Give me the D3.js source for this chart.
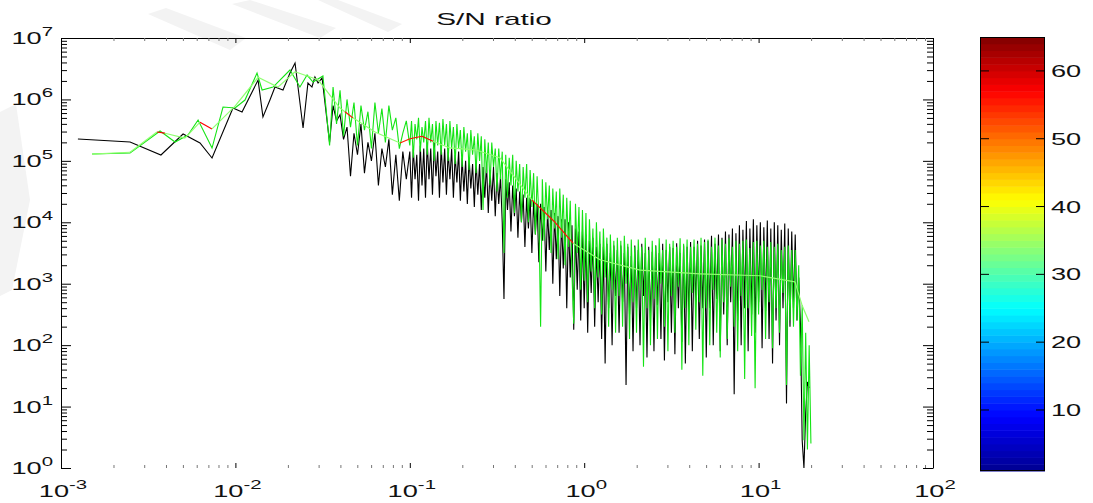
<!DOCTYPE html>
<html>
<head>
<meta charset="utf-8">
<script src="https://cdn.jsdelivr.net/npm/d3@7"></script>
<style>
  body { margin: 0; background: #fff; }
  text { font-family: "Liberation Sans", Arial, sans-serif; fill: #111; }
</style>
</head>
<body>
<svg id="chart" width="1093" height="503"></svg>
<script>
// all values are log10 (frequency, S/N)

// low frequency part, separate points for each trace
var blackLowF = [-2.903, -2.604, -2.427, -2.300, -2.203, -2.134, -2.014, -1.962, -1.870, -1.842,
                 -1.802, -1.773, -1.727, -1.687, -1.658, -1.612, -1.584, -1.561, -1.544, -1.526, -1.503];
var blackLowV = [5.356, 5.307, 5.095, 5.437, 5.291, 5.047, 5.860, 5.795, 6.316, 5.714,
                 5.990, 6.202, 6.153, 6.430, 6.593, 5.535, 6.267, 6.202, 6.365, 6.267, 6.349];

var greenLowF = [-2.822, -2.604, -2.432, -2.346, -2.272, -2.214, -2.134, -2.071, -2.002, -1.945,
                 -1.876, -1.847, -1.784, -1.687, -1.630, -1.589, -1.555, -1.498];
var greenLowV = [5.111, 5.128, 5.486, 5.307, 5.421, 5.665, 5.209, 5.877, 5.860, 5.990,
                 6.430, 6.153, 6.202, 6.479, 6.202, 6.397, 6.284, 6.381];

// dense part, both traces on the same frequencies
var denseF = [-1.46, -1.44, -1.42, -1.4, -1.38, -1.36, -1.34, -1.32, -1.3, -1.28,
              -1.26, -1.24, -1.22, -1.2, -1.18, -1.16, -1.14, -1.12, -1.1, -1.08,
              -1.06, -1.04, -1.02,
              -1, -0.99, -0.98, -0.97, -0.96, -0.95, -0.94, -0.93, -0.92, -0.91,
              -0.9, -0.89, -0.88, -0.87, -0.86, -0.85, -0.84, -0.83, -0.82, -0.81,
              -0.8, -0.79, -0.78, -0.77, -0.76, -0.75, -0.74, -0.73, -0.72, -0.71,
              -0.7, -0.69, -0.68, -0.67, -0.66, -0.65, -0.64, -0.63, -0.62, -0.61,
              -0.6, -0.59, -0.58, -0.57, -0.56, -0.55, -0.54, -0.53, -0.52, -0.51,
              -0.5, -0.49, -0.48, -0.47, -0.46, -0.45, -0.44, -0.43, -0.42, -0.41,
              -0.4, -0.39, -0.38, -0.37, -0.36, -0.35, -0.34, -0.33, -0.32, -0.31,
              -0.3, -0.29, -0.28, -0.27, -0.26, -0.25, -0.24, -0.23, -0.22, -0.21,
              -0.2, -0.19, -0.18, -0.17, -0.16, -0.15, -0.14, -0.13, -0.12, -0.11,
              -0.1, -0.09, -0.08, -0.07, -0.06, -0.05, -0.04, -0.03, -0.02, -0.01,
              0, 0.01, 0.02, 0.03, 0.04, 0.05, 0.06, 0.07, 0.08, 0.09,
              0.1, 0.11, 0.12, 0.13, 0.14, 0.15, 0.16, 0.17, 0.18, 0.19,
              0.2, 0.21, 0.22, 0.23, 0.24, 0.25, 0.26, 0.27, 0.28, 0.29,
              0.3, 0.31, 0.32, 0.33, 0.34, 0.35, 0.36, 0.37, 0.38, 0.39,
              0.4, 0.41, 0.42, 0.43, 0.44, 0.45, 0.46, 0.47, 0.48, 0.49,
              0.5, 0.51, 0.52, 0.53, 0.54, 0.55, 0.56, 0.57, 0.58, 0.59,
              0.6, 0.61, 0.62, 0.63, 0.64, 0.65, 0.66, 0.67, 0.68, 0.69,
              0.7, 0.71, 0.72, 0.73, 0.74, 0.75, 0.76, 0.77, 0.78, 0.79,
              0.8, 0.81, 0.82, 0.83, 0.84, 0.85, 0.86, 0.87, 0.88, 0.89,
              0.9, 0.91, 0.92, 0.93, 0.94, 0.95, 0.96, 0.97, 0.98, 0.99,
              1, 1.01, 1.02, 1.03, 1.04, 1.05, 1.06, 1.07, 1.08, 1.09,
              1.1, 1.11, 1.12, 1.13, 1.14, 1.15, 1.16, 1.17, 1.18, 1.19,
              1.2, 1.21, 1.22, 1.23, 1.24, 1.25, 1.26, 1.27, 1.28, 1.29,
              1.3];

var blackDenseV = [5.3, 5.9, 5.65, 5.75, 5.35, 5.55, 4.75, 5.45, 5.1, 5.6,
                   4.8, 5.3, 5.0, 5.45, 4.6, 5.2, 4.9, 5.35, 4.45, 5.1,
                   4.35, 5.15, 4.7,
                   5.15, 4.4, 5.2, 4.7, 5.1, 4.35, 5.25, 4.6, 5.2, 4.4,
                   5.3, 4.7, 5.2, 4.45, 5.3, 4.75, 5.15, 4.4, 5.25, 4.65,
                   5.2, 4.45, 5.15, 4.7, 5.2, 4.4, 5.1, 4.65, 5.15, 4.35,
                   5.05, 4.5, 5.0, 4.3, 5.05, 4.55, 4.95, 4.25, 5.0, 4.45,
                   4.95, 4.2, 4.9, 4.4, 4.95, 4.15, 4.85, 4.35, 4.9, 4.1,
                   4.8, 4.3, 4.75, 4.0, 2.75, 4.7, 4.2, 4.65, 3.85, 4.6,
                   4.1, 4.55, 3.75, 4.5, 4.0, 4.45, 3.6, 4.4, 3.9, 4.4,
                   3.5, 4.35, 3.8, 4.3, 3.35, 4.3, 3.7, 4.25, 3.2, 4.2,
                   3.55, 4.2, 3.0, 4.15, 3.4, 4.1, 2.8, 4.05, 3.25, 4.05,
                   2.6, 4.0, 3.1, 3.95, 2.25, 3.9, 2.9, 3.85, 2.4, 3.85,
                   2.6, 3.8, 2.2, 3.7, 2.85, 3.75, 2.3, 3.6, 2.7, 3.65,
                   2.1, 3.6, 1.7, 3.65, 2.6, 3.5, 2.0, 3.62, 2.8, 3.55,
                   2.2, 3.62, 2.7, 3.5, 1.35, 3.6, 2.5, 3.45, 1.9, 3.62,
                   2.6, 3.55, 2.0, 3.65, 2.8, 3.5, 1.8, 3.6, 2.4, 3.52,
                   1.9, 3.62, 2.65, 3.5, 2.1, 3.65, 1.75, 3.55, 2.7, 3.6,
                   2.2, 3.58, 1.85, 3.66, 2.6, 3.5, 2.05, 3.62, 1.7, 3.6,
                   2.5, 3.68, 1.9, 3.6, 2.7, 3.7, 2.1, 3.62, 2.6, 3.72,
                   1.8, 3.7, 2.6, 3.78, 2.0, 3.65, 2.75, 3.8, 1.9, 3.75,
                   2.5, 3.85, 2.0, 3.8, 2.7, 3.9, 1.2, 3.82, 2.4, 3.95,
                   2.0, 3.88, 2.6, 4.02, 1.9, 3.9, 2.5, 4.05, 2.2, 3.95,
                   2.7, 4.0, 1.95, 3.92, 2.55, 4.03, 2.1, 3.9, 1.7, 4.0,
                   2.4, 3.95, 2.0, 3.88, 2.6, 3.98, 1.05, 3.9, 2.3, 3.85,
                   2.6, 3.8, 2.4, 3.1, 2.35, 0.45, 0.0, 0.9, 1.4, 1.3];

var greenDenseV = [5.25, 6.2, 5.6, 6.15, 5.4, 6.0, 5.55, 5.95, 5.25, 5.9,
                   5.5, 5.8, 5.2, 5.95, 5.45, 5.85, 5.3, 5.9, 5.5, 5.7,
                   5.2, 5.45, 5.65,
                   5.25, 5.65, 5.05, 5.6, 5.35, 5.7, 5.15, 5.55, 5.3, 5.65,
                   5.1, 5.7, 5.3, 5.6, 5.0, 5.65, 5.25, 5.62, 5.1, 5.68,
                   5.25, 5.6, 5.0, 5.65, 5.2, 5.55, 4.95, 5.6, 5.2, 5.5,
                   4.9, 5.55, 5.15, 5.45, 4.85, 5.5, 5.1, 5.4, 4.8, 5.45,
                   5.0, 5.4, 4.2, 5.35, 4.8, 5.3, 4.6, 5.3, 4.9, 5.2,
                   4.5, 5.2, 4.7, 5.15, 3.5, 5.1, 4.4, 5.05, 4.6, 5.1,
                   4.15, 5.0, 4.5, 4.95, 4.0, 4.9, 4.4, 4.95, 4.0, 4.85,
                   4.25, 4.8, 3.8, 4.75, 4.1, 2.3, 4.7, 3.7, 4.65, 4.05,
                   4.6, 3.5, 4.55, 3.9, 4.5, 3.4, 4.55, 3.75, 4.45, 3.3,
                   4.4, 3.6, 4.35, 3.15, 2.35, 4.3, 3.5, 4.25, 2.9, 4.2,
                   3.05, 4.15, 2.7, 4.05, 3.2, 3.9, 2.6, 4.0, 3.1, 3.85,
                   2.5, 3.9, 3.1, 3.75, 2.3, 3.8, 2.9, 3.7, 2.2, 3.75,
                   2.8, 3.7, 2.3, 3.78, 3.0, 3.65, 2.1, 3.72, 2.7, 3.6,
                   2.2, 3.72, 2.9, 3.6, 1.65, 3.75, 2.6, 3.55, 2.0, 3.7,
                   2.75, 3.62, 2.1, 3.74, 3.0, 3.55, 2.3, 3.72, 1.9, 3.65,
                   2.8, 3.7, 2.2, 3.6, 2.95, 3.74, 1.6, 3.65, 2.6, 3.72,
                   2.0, 3.6, 2.85, 3.72, 2.25, 3.65, 2.7, 3.75, 1.5, 3.68,
                   2.6, 3.72, 2.0, 3.6, 2.9, 3.75, 2.2, 3.62, 1.8, 3.72,
                   2.7, 3.65, 2.1, 3.74, 2.95, 3.6, 2.3, 3.7, 1.9, 3.65,
                   2.8, 3.7, 1.45, 3.72, 2.6, 3.58, 2.15, 3.68, 1.3, 3.7,
                   2.5, 3.62, 2.9, 3.7, 2.1, 3.6, 2.7, 3.68, 1.95, 3.6,
                   2.6, 3.65, 2.2, 3.55, 2.85, 3.6, 1.35, 3.62, 2.4, 3.55,
                   2.3, 3.55, 2.4, 3.3, 1.5, 2.65, 0.45, 2.2, 0.3, 2.0,
                   0.4];

// smoothed trace, coloured by the colour-bar value
var smoothF = [-2.822, -2.604, -2.450, -2.404, -2.289, -2.203, -2.134, -2.002, -1.870, -1.756,
               -1.658, -1.526, -1.400, -1.372, -1.326, -1.200, -1.056, -0.999, -0.930, -0.867,
               -0.770, -0.626, -0.483, -0.299, -0.167, -0.064, 0.091, 0.320, 0.664, 1.008,
               1.209, 1.249, 1.289];
var smoothV = [5.11, 5.14, 5.47, 5.45, 5.37, 5.63, 5.52, 5.89, 6.36, 6.20,
               6.45, 6.32, 5.86, 5.80, 5.70, 5.47, 5.29, 5.36, 5.40, 5.32,
               5.21, 5.18, 5.05, 4.36, 4.00, 3.66, 3.39, 3.22, 3.16, 3.13,
               3.03, 2.65, 2.38];
var smoothC = [34, 34, 58, 34, 34, 57, 34, 34, 34, 34,
               34, 34, 34, 56, 34, 34, 55, 57, 57, 34,
               34, 34, 34, 56, 56, 34, 34, 34, 34, 34,
               34, 34, 34];

var xExps = [-3, -2, -1, 0, 1, 2];
var yExps = [0, 1, 2, 3, 4, 5, 6, 7];
var cbarTicks = [10, 20, 30, 40, 50, 60];

var svg = d3.select('#chart');

// faint watermark behind the plot
var marks = [
  [[148, 14], [166, 8], [246, 38], [230, 50]],
  [[232, 4], [250, 0], [336, 28], [320, 38]],
  [[318, 0], [338, 0], [402, 24], [388, 32]],
  [[0, 112], [16, 104], [30, 200], [12, 290], [0, 296]]
];
svg.append('g').selectAll('polygon')
  .data(marks)
  .enter().append('polygon')
  .attr('points', function (d) { return d.join(' '); })
  .attr('fill', '#f3f3f3');

var x = d3.scaleLog().domain([1e-3, 1e2]).range([61, 933]);
var y = d3.scaleLog().domain([1, 1e7]).range([468, 38]);

function toPoints(fs, vs) {
  return vs.map(function (v, i) {
    return [Math.pow(10, fs[i]), Math.pow(10, v)];
  });
}

var black = toPoints(blackLowF.concat(denseF), blackLowV.concat(blackDenseV));
var green = toPoints(greenLowF.concat(denseF), greenLowV.concat(greenDenseV));
var smooth = toPoints(smoothF, smoothV);

var line = d3.line()
  .x(function (d) { return x(d[0]); })
  .y(function (d) { return y(d[1]); });

var plot = svg.append('g');

plot.append('path')
  .datum(black)
  .attr('d', line)
  .attr('fill', 'none')
  .attr('stroke', '#000')
  .attr('stroke-width', 1.1);

plot.append('path')
  .datum(green)
  .attr('d', line)
  .attr('fill', 'none')
  .attr('stroke', '#14e414')
  .attr('stroke-width', 1.1);

// jet colour map
var jet = d3.scaleLinear()
  .domain([0, 0.125, 0.375, 0.625, 0.875, 1])
  .range(['#000090', '#0000ff', '#00ffff', '#ffff00', '#ff0000', '#800000']);
var cnorm = d3.scaleLinear().domain([1, 65]).range([0, 1]);

var segs = d3.range(smooth.length - 1).map(function (i) {
  return { a: smooth[i], b: smooth[i + 1], c: smoothC[i] };
});
plot.selectAll('.seg')
  .data(segs)
  .enter().append('path')
  .attr('class', 'seg')
  .attr('d', function (d) { return line([d.a, d.b]); })
  .attr('fill', 'none')
  .attr('stroke', function (d) { return jet(cnorm(d.c)); })
  .attr('stroke-width', 1.2);

// ticks
var yMinor = [];
var xMinor = [];
yExps.slice(0, -1).forEach(function (e) {
  for (var m = 2; m < 10; m++) yMinor.push(m * Math.pow(10, e));
});
xExps.slice(0, -1).forEach(function (e) {
  for (var m = 2; m < 10; m++) xMinor.push(m * Math.pow(10, e));
});
var yMajor = yExps.map(function (e) { return Math.pow(10, e); });
var xMajor = xExps.map(function (e) { return Math.pow(10, e); });

function drawAxis(axisFn, scale, pos, vals, size, color, keepDomain) {
  var g = svg.append('g')
    .attr('transform', pos)
    .call(axisFn(scale).tickValues(vals).tickSize(size).tickSizeOuter(0).tickFormat(''));
  g.selectAll('.tick line').attr('stroke', color);
  if (!keepDomain) g.select('.domain').remove();
  return g;
}

drawAxis(d3.axisLeft, y, 'translate(61,0)', yMinor, -6, '#000', true);
drawAxis(d3.axisLeft, y, 'translate(61,0)', yMajor, -10, '#000', false);
drawAxis(d3.axisRight, y, 'translate(933,0)', yMinor, -6, '#000', true);
drawAxis(d3.axisRight, y, 'translate(933,0)', yMajor, -10, '#000', false);
drawAxis(d3.axisTop, x, 'translate(0,38)', xMinor, -3, '#777', true);
drawAxis(d3.axisTop, x, 'translate(0,38)', xMajor, -5, '#000', false);
drawAxis(d3.axisBottom, x, 'translate(0,468)', xMinor, -3, '#777', false);
drawAxis(d3.axisBottom, x, 'translate(0,468)', xMajor, -5, '#000', false);

// labels like 10^-3, stretched wide as in the picture
function powLabel(px, py, exp, anchor) {
  var t = svg.append('g')
    .attr('transform', 'translate(' + px + ',' + py + ') scale(1.7,1)')
    .append('text')
    .attr('text-anchor', anchor)
    .attr('font-size', 16);
  t.append('tspan').text('10');
  t.append('tspan').attr('dy', -8).attr('font-size', 12).text(exp);
}

yExps.forEach(function (e) {
  powLabel(53, y(Math.pow(10, e)) + 6, e, 'end');
});
xExps.forEach(function (e) {
  powLabel(x(Math.pow(10, e)) + 2, 497, e, 'middle');
});

svg.append('g')
  .attr('transform', 'translate(494,25) scale(1.75,1)')
  .append('text')
  .attr('text-anchor', 'middle')
  .attr('font-size', 17)
  .text('S/N ratio');

// colour bar
var cy = d3.scaleLinear().domain([1, 65]).range([471, 37]);
var bands = d3.range(1, 65);
svg.append('g').selectAll('rect')
  .data(bands)
  .enter().append('rect')
  .attr('x', 980)
  .attr('width', 65)
  .attr('y', function (d) { return cy(d + 1); })
  .attr('height', function (d) { return cy(d) - cy(d + 1) + 0.5; })
  .attr('fill', function (d) { return jet((d - 0.5) / 64); });

svg.append('rect')
  .attr('x', 980.5).attr('y', cy(65) + 0.5)
  .attr('width', 64).attr('height', cy(1) - cy(65) - 1)
  .attr('fill', 'none').attr('stroke', '#000');

var cb = svg.append('g');
cb.selectAll('.tl')
  .data(cbarTicks)
  .enter().append('line')
  .attr('x1', 980).attr('x2', 989)
  .attr('y1', function (d) { return cy(d); })
  .attr('y2', function (d) { return cy(d); })
  .attr('stroke', '#000');
cb.selectAll('.tr')
  .data(cbarTicks)
  .enter().append('line')
  .attr('x1', 1036).attr('x2', 1045)
  .attr('y1', function (d) { return cy(d); })
  .attr('y2', function (d) { return cy(d); })
  .attr('stroke', '#000');
cbarTicks.forEach(function (v) {
  svg.append('g')
    .attr('transform', 'translate(1051,' + (cy(v) + 6) + ') scale(1.7,1)')
    .append('text')
    .attr('font-size', 16)
    .text(v);
});
</script>
</body>
</html>
